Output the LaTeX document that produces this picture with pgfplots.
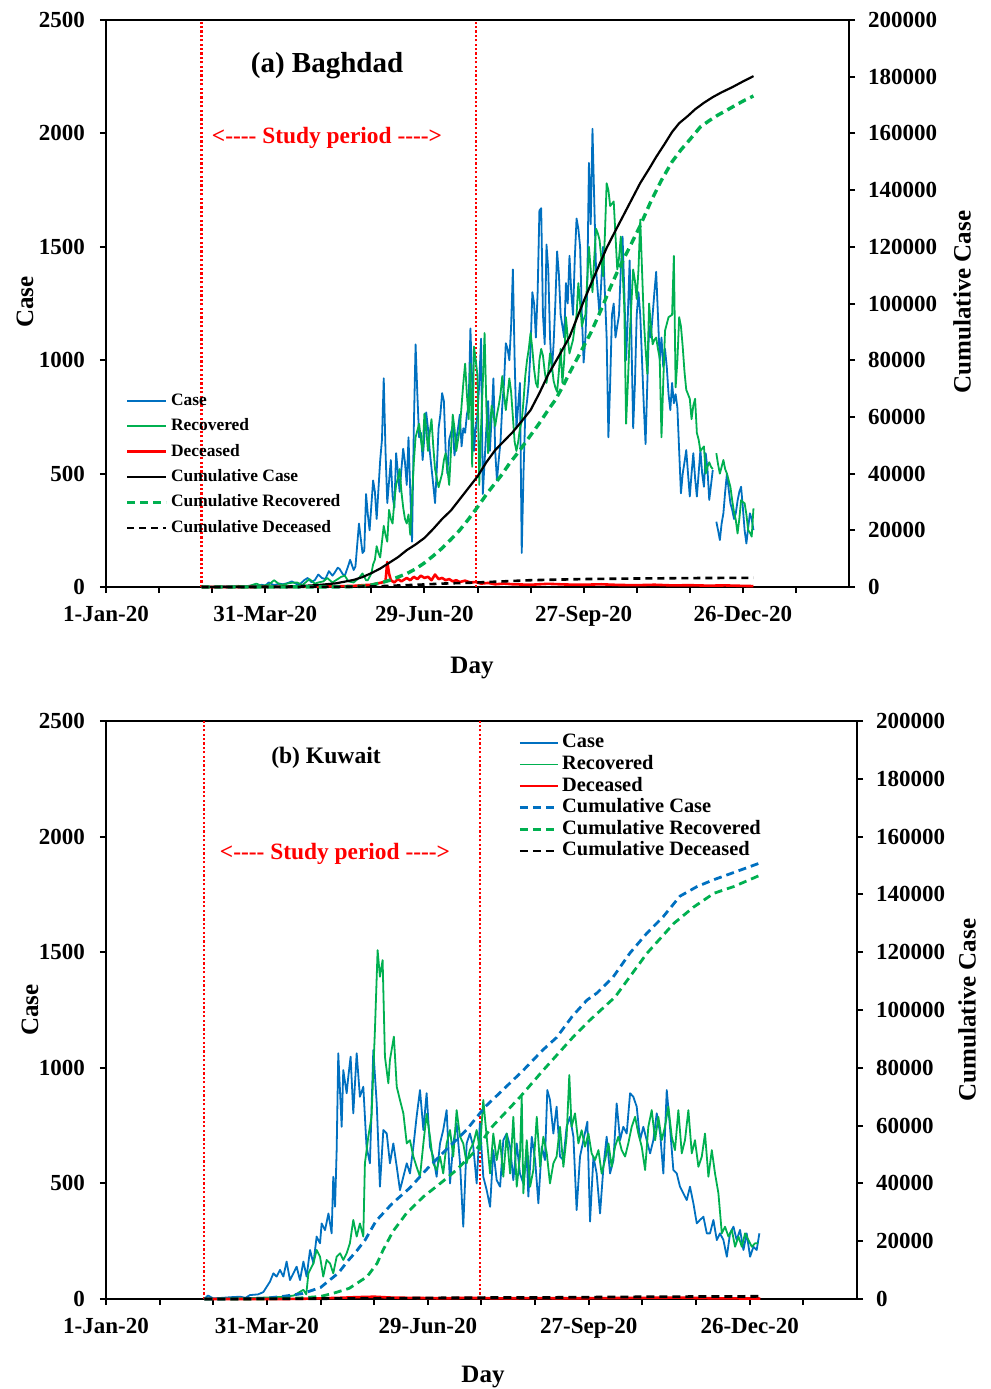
\documentclass[border=0pt]{standalone}
\usepackage{fontspec}
\setmainfont{Liberation Serif}
\usepackage{pgfplots}
\pgfplotsset{compat=1.18}

\definecolor{cblue}{RGB}{0,112,192}
\definecolor{cgreen}{RGB}{0,176,80}
\definecolor{cred}{RGB}{255,0,0}

\pgfplotsset{
  base/.style={
    scale only axis, xmin=0, xmax=420, ymin=0,
    axis line style={line width=1pt},
    tick style={black, line width=1pt},
    tick align=outside, major tick length=3pt, minor tick length=3pt,
    tick label style={font=\bfseries\fontsize{11.5}{13}\selectfont},
    scaled y ticks=false,
    unbounded coords=jump, clip=false,
  },
  leftside/.style={
    base, ymax=2500, xtick pos=bottom, ytick pos=left,
    xtick={0,90,180,270,360},
    xticklabels={1-Jan-20,31-Mar-20,29-Jun-20,27-Sep-20,26-Dec-20},
    minor xtick={30,60,120,150,210,240,300,330,390},
    ytick={0,500,1000,1500,2000,2500},
    yticklabels={0,500,1000,1500,2000,2500},
    yticklabel style={xshift=-4pt},
    xticklabel style={yshift=-3pt},
  },
  rightside/.style={
    base, ymax=200000, axis x line=none, axis y line*=right,
    ytick={0,20000,40000,60000,80000,100000,120000,140000,160000,180000,200000},
    yticklabels={0,20000,40000,60000,80000,100000,120000,140000,160000,180000,200000},
    yticklabel style={xshift=3pt},
    legend cell align=left,
  },
  case/.style={cblue, line width=0.9pt, line join=round},
  rec/.style={cgreen, line width=0.9pt, line join=round},
  dec/.style={cred, line width=1.3pt, line join=round},
  vline/.style={cred, line width=1.1pt, dash pattern=on 1.1pt off 1.1pt, forget plot},
}

\begin{document}
\begin{tikzpicture}[x=1pt,y=1pt]
\path[use as bounding box] (0,0) rectangle (495.5,-694.5);

% ---------------- (a) Baghdad ----------------
\begin{axis}[leftside, at={(53pt,-293.5pt)}, anchor=south west,
  width=371.5pt, height=283.5pt]
\addplot[vline] coordinates {(54,0) (54,2500)};
\addplot[vline] coordinates {(209,0) (209,2500)};
% Case
\addplot[case] coordinates {
(54,0) (58,1) (62,0) (66,3) (70,2) (74,5) (78,3) (82,6) (86,4) (88,10) (90,6) (92,20)
(95,8) (98,15) (100,12) (103,18) (105,25) (108,12) (110,15) (112,30) (114,40) (116,22)
(118,30) (120,55) (122,40) (124,35) (126,70) (128,50) (129,60) (131,85) (132,80) (134,55)
(135,50) (137,95) (138,120) (140,75) (141,90) (143,280) (145,150) (146,160) (147,410)
(148,320) (149,250) (151,470) (152,420) (153,300) (155,560) (156,650) (157,920) (158,600)
(159,370) (161,560) (162,400) (163,350) (164,590) (166,420) (167,520) (168,610) (169,550)
(170,450) (171,660) (172,420) (173,200) (174,700) (175,1070) (176,850) (177,660) (178,680)
(179,560) (181,770) (182,700) (183,600) (185,450) (186,370) (187,520) (188,700) (189,760)
(190,855) (191,820) (192,600) (193,500) (194,650) (196,710) (197,580) (198,650) (199,700)
(200,760) (201,620) (202,700) (203,680) (204,760) (205,800) (206,1140) (207,900) (208,600)
(209,700) (210,760) (211,900) (212,1095) (213,410) (214,550) (215,700) (216,820) (217,600)
(218,750) (219,920) (220,600) (221,470) (222,560) (223,640) (224,800) (225,900) (226,1075)
(227,1050) (228,1000) (229,1150) (230,1400) (231,1000) (232,700) (233,800) (234,900)
(235,150) (236,500) (237,760) (238,820) (239,900) (240,1050) (241,1300) (242,1250)
(243,1100) (244,1300) (245,1660) (246,1670) (247,1200) (248,1070) (249,1510) (250,1400)
(251,1100) (252,950) (253,1070) (254,1250) (255,1480) (256,1380) (257,1200) (258,1150)
(259,1100) (260,1340) (261,1250) (262,1460) (263,1300) (264,1200) (265,1450) (266,1625)
(267,1580) (268,1500) (269,1200) (270,990) (271,1100) (272,1300) (273,1870) (274,1600)
(275,2020) (276,1700) (277,1400) (278,1300) (279,1200) (280,1350) (281,1500) (282,1300)
(283,1100) (284,660) (285,900) (286,1200) (287,1250) (288,1100) (289,1150) (290,1200)
(291,1400) (292,1545) (293,1300) (294,1000) (295,1200) (296,1440) (297,1100) (298,700)
(299,900) (300,1200) (301,1300) (302,1200) (303,1000) (304,800) (305,630) (306,900)
(307,1150) (308,1100) (309,1200) (310,1300) (311,1390) (312,1200) (313,1000) (314,1100)
(315,970) (316,1050) (317,970) (318,850) (319,780) (320,900) (321,810) (322,850) (323,790)
(324,600) (325,413) (326,500) (327,550) (328,604) (329,500) (330,399) (331,500) (332,590)
(333,480) (334,399) (335,500) (336,604) (337,500) (338,442) (339,590) (340,520) (341,384)
(342,450) (343,516) (344,nan) (345,288) (346,250) (347,207) (348,280) (349,325) (350,420)
(351,500) (352,430) (353,368) (354,340) (355,300) (356,325) (357,380) (358,420) (359,442)
(360,350) (361,250) (362,192) (363,260) (364,325) (365,300) (366,251)
};
% Recovered
\addplot[rec] coordinates {
(54,0) (60,1) (65,3) (70,0) (75,5) (80,2) (85,15) (88,5) (92,10) (95,30) (98,12) (100,10)
(104,18) (108,20) (111,8) (115,35) (118,15) (120,20) (123,25) (125,40) (128,20) (130,30)
(133,45) (135,50) (137,25) (140,20) (143,40) (145,60) (147,30) (148,30) (150,60) (151,100)
(152,120) (153,180) (154,150) (155,130) (156,200) (157,270) (158,230) (159,200) (160,340)
(161,300) (162,280) (163,380) (164,450) (165,480) (166,520) (167,420) (168,350) (169,300)
(170,280) (171,320) (172,230) (173,400) (174,550) (175,660) (176,690) (177,720) (178,650)
(179,600) (180,765) (181,700) (182,600) (183,680) (184,740) (185,620) (186,520) (187,480)
(188,440) (189,470) (190,500) (191,560) (192,590) (193,520) (194,450) (195,600) (196,760)
(197,700) (198,600) (199,650) (200,700) (201,800) (202,900) (203,985) (204,850) (205,740)
(206,985) (207,530) (208,1060) (209,1000) (210,930) (211,450) (212,700) (213,900) (214,1120)
(215,800) (216,590) (217,700) (218,800) (219,760) (220,710) (221,760) (222,800) (223,850)
(224,930) (225,850) (226,780) (227,850) (228,920) (229,860) (230,750) (231,640) (232,600)
(233,640) (234,700) (235,730) (236,820) (237,930) (238,1000) (239,1050) (240,1120)
(241,1050) (242,960) (243,900) (244,880) (245,1000) (246,1050) (247,1020) (248,950)
(249,900) (250,950) (251,1030) (252,980) (253,910) (254,880) (255,860) (256,950) (257,1050)
(258,900) (259,1000) (260,1190) (261,1100) (262,1030) (263,1060) (264,1090) (265,1150)
(266,1200) (267,1340) (268,1250) (269,1150) (270,1180) (271,1200) (272,1350) (273,1500)
(274,1400) (275,1300) (276,1450) (277,1580) (278,1560) (279,1530) (280,1450) (281,1370)
(282,1550) (283,1780) (284,1750) (285,1680) (286,1690) (287,1700) (288,1550) (289,1400)
(290,1450) (291,1545) (292,1400) (293,1230) (294,720) (295,900) (296,1100) (297,1250)
(298,1400) (299,1350) (300,1270) (301,1400) (302,1620) (303,1400) (304,1180) (305,1050)
(306,940) (307,1250) (308,1150) (309,1070) (310,1090) (311,1100) (312,1050) (313,1010)
(314,660) (315,900) (316,1130) (317,1160) (318,1190) (319,1195) (320,1200) (321,1460)
(322,880) (323,1000) (324,1190) (325,1150) (326,1060) (327,950) (328,870) (329,850)
(330,830) (331,740) (332,800) (333,830) (334,680) (335,650) (336,600) (337,610) (338,620)
(339,500) (340,530) (341,550) (342,530) (343,520) (344,nan) (345,590) (346,540) (347,500)
(348,530) (349,560) (350,520) (351,500) (352,470) (353,440) (354,380) (355,330) (356,296)
(357,236) (358,300) (359,383) (360,375) (361,369) (362,320) (363,251) (364,240) (365,222)
(366,347)
};
% Deceased
\addplot[dec] coordinates {
(54,0) (80,0) (100,1) (120,2) (130,3) (140,5) (145,8) (150,10) (153,15) (156,20) (158,25)
(159,110) (160,60) (161,30) (163,20) (165,35) (167,25) (168,30) (170,40) (172,30) (174,45)
(176,35) (178,50) (180,40) (182,45) (184,30) (186,55) (188,35) (190,40) (192,30) (194,35)
(196,25) (198,30) (200,22) (203,28) (206,20) (209,22) (212,15) (216,18) (220,12) (225,15)
(230,12) (240,10) (250,14) (260,11) (270,10) (280,12) (290,9) (300,8) (310,10) (320,7)
(330,8) (340,6) (350,7) (360,5) (366,4)
};
\end{axis}

\begin{axis}[rightside, at={(53pt,-293.5pt)}, anchor=south west,
  width=371.5pt, height=283.5pt,
  legend image code/.code={\draw[#1] (0pt,0pt) -- (19.5pt,0pt);},
  legend style={at={(0.026,0.344)}, anchor=north west, draw=none, fill=none,
    inner sep=0pt, column sep=1.5pt, row sep=4.2pt,
    font=\bfseries\fontsize{8.7}{10}\selectfont,
    nodes={inner sep=0pt, text height=6.5pt, text depth=2pt}},
  legend entries={Case,Recovered,Deceased,Cumulative Case,Cumulative Recovered,Cumulative Deceased}]
\addlegendimage{case}
\addlegendimage{rec}
\addlegendimage{dec}
% Cumulative Case
\addplot[black, line width=1.1pt, line join=round] coordinates {
(54,0) (70,10) (80,20) (90,60) (100,150) (110,350) (120,700) (130,1300) (140,2500)
(145,3500) (150,4900) (155,6500) (160,8500) (165,10500) (170,13000) (175,15000)
(180,17300) (185,20500) (190,24000) (195,27000) (200,31000) (205,35000) (210,39000)
(215,44000) (220,48300) (225,51500) (230,54700) (235,58500) (240,62400) (245,68400)
(250,75000) (256,81500) (262,88200) (266,94500) (271,102300) (277,111000) (283,119600)
(287,124500) (292,130500) (297,136500) (302,142500) (307,147500) (311,151700) (316,156500)
(320,160500) (324,163600) (329,166200) (333,168500) (338,170800) (343,172800) (348,174500)
(354,176300) (360,178300) (366,180200)
};
% Cumulative Recovered
\addplot[cgreen, line width=1.7pt, dash pattern=on 4pt off 2.5pt] coordinates {
(54,0) (100,20) (120,40) (130,60) (140,100) (145,300) (150,700) (155,1400) (160,2300)
(165,3500) (170,4700) (175,6400) (180,8500) (185,11000) (190,13700) (195,16800) (200,20100)
(205,24000) (210,28200) (216,33500) (223,39000) (228,43500) (234,48300) (240,53500)
(245,57800) (250,62500) (254,66000) (258,70500) (262,75500) (268,82500) (274,89600)
(280,98000) (285,105500) (290,112500) (296,119900) (302,127500) (308,136000) (314,143500)
(320,150000) (325,154200) (330,157800) (336,162300) (341,164500) (346,166500) (351,168200)
(356,170000) (361,171700) (366,173200)
};
% Cumulative Deceased
\addplot[black, line width=1.3pt, dash pattern=on 3.5pt off 2.5pt] coordinates {
(54,0) (100,10) (130,50) (150,200) (160,400) (170,650) (180,900) (190,1200) (200,1400)
(210,1600) (225,2000) (240,2400) (255,2600) (270,2800) (300,3000) (330,3150) (366,3250)
};
\end{axis}

% ---------------- (b) Kuwait ----------------
\begin{axis}[leftside, at={(53pt,-649.5pt)}, anchor=south west,
  width=375.5pt, height=289pt]
\addplot[vline] coordinates {(55,0) (55,2500)};
\addplot[vline] coordinates {(209,0) (209,2500)};
% Case
\addplot[case] coordinates {
(55,0) (57,15) (60,3) (65,5) (70,8) (75,10) (78,5) (80.5,17) (85,20) (88,30) (91.7,75)
(93.6,111) (95.4,97) (97.3,126) (99.2,97) (101,162) (102.9,82) (104.8,111) (106.6,140)
(108.5,82) (110.4,162) (112.2,97) (114.1,212) (116,154) (117.8,270) (119.7,241)
(120.6,327) (122.5,298) (124.4,370) (126.2,284) (127.1,529) (128.1,399) (129,644)
(129.9,1063) (131.8,745) (132.7,990) (134.6,890) (135.5,961) (136.8,1048) (138.3,803)
(140.2,1063) (142,875) (143.9,918) (145.7,659) (147.6,587) (149.5,1077) (151.4,846)
(153.2,486) (155.1,731) (157,716) (158.8,587) (160.7,673) (162.6,572) (164.4,471)
(166.3,529) (168.2,587) (170,543) (171.9,659) (173.7,788) (175.6,904) (177.5,731)
(179.3,890) (181.2,659) (183,616) (184.9,529) (186.8,673) (188.6,731) (190.5,817)
(192.4,500) (194.2,673) (196.1,760) (198,587) (199.8,313) (201.7,673) (203.5,716)
(205.4,659) (207.3,500) (209.1,760) (211,529) (212.9,471) (214.8,399) (216.6,644)
(218.5,514) (220.4,486) (222.2,687) (224.1,716) (226,659) (227.8,514) (229.7,673)
(231.5,543) (233.4,500) (235.3,630) (236.2,443) (238.1,702) (240,601) (241.8,414)
(243.7,659) (245.5,601) (246.8,904) (248.3,861) (250.2,716) (252,832) (253.9,616)
(255.8,601) (257.6,745) (259.5,788) (261.4,702) (263.2,385) (265.1,616) (267,687)
(269.2,767) (270.7,335) (272.6,616) (274.4,543) (276.3,370) (278.2,572) (280,702)
(281.9,543) (283.8,601) (285.6,846) (287.5,687) (289.3,745) (291.2,716) (293.1,890)
(294.9,875) (296.8,832) (298.7,687) (300.5,745) (302.4,687) (304.3,630) (306.1,687)
(308,803) (309.9,716) (311.7,543) (313.6,904) (315.4,745) (317.3,558) (319.2,543)
(321,486) (322.9,457) (324.8,428) (326.6,486) (328.5,414) (330.4,327) (332.2,342)
(334.1,356) (336,284) (337.8,284) (339.7,342) (341.6,255) (343.4,284) (345.3,255)
(347.2,183) (349,284) (350.9,313) (352.7,255) (354.6,299) (356.5,212) (358.3,284)
(360.2,183) (362.1,226) (363.9,212) (365.4,284)
};
% Recovered
\addplot[rec] coordinates {
(55,0) (70,2) (85,5) (95,8) (100,10) (105,15) (110.4,40) (112,20) (113.2,111) (116,154)
(117.8,212) (119.7,183) (121.5,97) (123.4,169) (125.3,154) (127.1,111) (129,183)
(130.9,198) (132.7,169) (134.6,198) (136.4,241) (138.3,342) (140.2,270) (142,327)
(143.9,270) (144.8,587) (146.7,702) (148.5,788) (150.4,1163) (151.9,1509) (153.2,1394)
(154.7,1466) (156,1048) (157.9,933) (158.8,1034) (161,1135) (162.6,918) (164.4,861)
(166.3,803) (168.2,673) (170,687) (171.9,616) (173.7,572) (175.6,529) (177.5,673)
(179.3,800) (181.2,702) (183,587) (184.9,558) (186.8,616) (188.6,543) (190.5,673)
(192.4,731) (194.2,616) (196.1,817) (198,702) (199.8,673) (201.7,587) (203.5,644)
(205.4,673) (207.3,731) (209.1,644) (211,861) (212.9,702) (214.8,543) (216.6,716)
(218.5,601) (220.4,687) (222.2,529) (224.1,716) (226,543) (227.8,788) (229.7,486)
(231.5,616) (232.5,875) (233.4,457) (235.3,687) (237.2,486) (239,558) (240.9,788)
(242.8,572) (244.6,702) (246.5,630) (248.3,500) (250.2,587) (252,616) (253.9,745)
(255.8,572) (257.6,702) (259.1,969) (260.4,745) (262.3,803) (264.2,673) (266,730)
(267.9,659) (269.8,716) (271.6,630) (273.5,601) (275.4,644) (277.2,543) (279.1,601)
(281,673) (282.8,572) (284.7,659) (286.5,702) (288.4,644) (290.3,616) (292.1,673)
(294,745) (295.9,788) (297.7,716) (299.6,659) (301.5,558) (303.3,745) (305.2,817)
(307.1,687) (308.9,788) (310.8,687) (312.6,745) (314.5,832) (316.4,702) (318.2,644)
(320.1,817) (322,630) (323.8,687) (325.7,817) (327.6,630) (329.4,687) (331.3,572)
(333.2,616) (335,716) (336.9,529) (338.8,644) (340.6,543) (342.5,457) (344.4,284)
(346.2,313) (348.1,270) (350,299) (351.8,226) (353.7,270) (355.6,226) (357.4,284)
(359.3,255) (361.2,226) (363,241) (364.9,241)
};
% Deceased
\addplot[dec] coordinates {
(55,0) (100,0) (110,1) (120,3) (130,5) (140,8) (150,10) (160,6) (170,5) (180,4) (190,3)
(200,5) (210,4) (220,3) (240,4) (260,3) (280,4) (300,5) (320,6) (340,3) (366,2)
};
\end{axis}

\begin{axis}[rightside, at={(53pt,-649.5pt)}, anchor=south west,
  width=375.5pt, height=289pt,
  legend image code/.code={\draw[#1] (0pt,0pt) -- (19pt,0pt);},
  legend style={at={(0.5486,0.98)}, anchor=north west, draw=none, fill=none,
    inner sep=0pt, column sep=1.5pt, row sep=0.8pt,
    font=\bfseries\fontsize{10.2}{12}\selectfont,
    nodes={inner sep=0pt, text height=7.5pt, text depth=2.5pt}},
  legend entries={Case,Recovered,Deceased,Cumulative Case,Cumulative Recovered,Cumulative Deceased}]
\addlegendimage{case}
\addlegendimage{rec}
\addlegendimage{dec}
% Cumulative Case
\addplot[cblue, line width=1.4pt, dash pattern=on 4pt off 2.5pt] coordinates {
(55,0) (70,60) (80,200) (90,300) (100,1000) (110,1900) (120,4000) (130,9000) (135,13000)
(140,16500) (145,20500) (151,27000) (160,33000) (170,38500) (181,46000) (192,52700)
(201.6,58500) (212,66500) (220,71200) (233.5,79230) (244,86000) (252,90500) (261,98000)
(269,103450) (274.6,105900) (283.6,111400) (293,119700) (302.5,126600) (311.5,132200)
(321,139400) (330.5,142700) (339.5,145000) (350.7,147500) (365.8,150900)
};
% Cumulative Recovered
\addplot[cgreen, line width=1.4pt, dash pattern=on 4pt off 2.5pt] coordinates {
(55,0) (90,50) (110,400) (120,900) (127,1960) (136,3690) (146,7730) (151.6,12340)
(155,17000) (160.6,23500) (168,29640) (177.5,35410) (187,40020) (196,44640) (207,51550)
(215,59000) (231.7,70000) (244.6,79230) (261,90500) (270.6,96500) (284.7,104500)
(302.5,119600) (317.6,130000) (328.8,135700) (340,140400) (351,142700) (366,146700)
};
% Cumulative Deceased
\addplot[black, line width=1.4pt, dash pattern=on 4pt off 2.5pt] coordinates {
(55,0) (150,200) (200,450) (250,550) (300,750) (366,930)
};
\end{axis}

% ---------------- labels ----------------
\begin{scope}[font=\bfseries\fontsize{12.5}{14}\selectfont]
\node[rotate=90] at (12.5,-151) {Case};
\node[rotate=90] at (481,-151) {Cumulative Case};
\node at (236,-334) {Day};
\node[rotate=90] at (15,-505) {Case};
\node[rotate=90] at (483.5,-505) {Cumulative Case};
\node at (241.5,-688.5) {Day};
\end{scope}
\node[font=\bfseries\fontsize{14.5}{16}\selectfont] at (163.5,-33) {(a) Baghdad};
\node[font=\bfseries\fontsize{11.7}{13}\selectfont, text=cred] at (163.5,-69) {<-{}-{}-{}- Study period -{}-{}-{}->};
\node[font=\bfseries\fontsize{11.8}{13}\selectfont] at (163,-379) {(b) Kuwait};
\node[font=\bfseries\fontsize{11.7}{13}\selectfont, text=cred] at (167.5,-427) {<-{}-{}-{}- Study period -{}-{}-{}->};
\end{tikzpicture}
\end{document}
